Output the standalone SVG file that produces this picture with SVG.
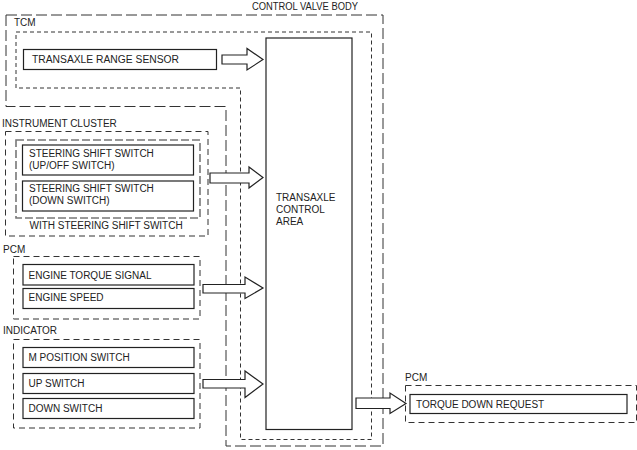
<svg xmlns="http://www.w3.org/2000/svg" width="637" height="450" viewBox="0 0 637 450">
<style>
text{font-family:"Liberation Sans",Arial,sans-serif;font-size:10px;fill:#222}
.box{fill:#fff;stroke:#222;stroke-width:1.2}
.cvb{fill:none;stroke:#333;stroke-width:1;stroke-dasharray:11 4}
.tcm{fill:none;stroke:#333;stroke-width:1;stroke-dasharray:4 3}
.grp{fill:none;stroke:#333;stroke-width:1;stroke-dasharray:6 4}
.sub{fill:none;stroke:#777;stroke-width:1.6;stroke-dasharray:8 3}
.arr{fill:#fff;stroke:#222;stroke-width:1.2;stroke-linejoin:miter}
</style>
<rect width="637" height="450" fill="#fff"/>
<g id="control-valve-body">
<path class="cvb" d="M6,15 H383 V446 H226 V106.5 H6 Z"/>
<text x="252" y="9.5" textLength="106" lengthAdjust="spacingAndGlyphs">CONTROL VALVE BODY</text>
</g>
<g id="tcm">
<path class="tcm" d="M16,32 H371.5 V439.5 H240.5 V88 H16 Z"/>
<text x="14" y="26">TCM</text>
</g>
<g id="transaxle-range-sensor">
<rect class="box" x="23.5" y="49.5" width="193" height="20"/>
<text x="32" y="62.7" textLength="147" lengthAdjust="spacingAndGlyphs">TRANSAXLE RANGE SENSOR</text>
</g>
<g id="transaxle-control-area">
<rect class="box" x="266" y="38" width="86" height="391.5"/>
<text x="276" y="200.5">TRANSAXLE</text>
<text x="276" y="212.7">CONTROL</text>
<text x="276" y="225">AREA</text>
</g>
<g id="instrument-cluster">
<rect class="grp" x="5.5" y="131.5" width="202.5" height="104.5"/>
<text x="2" y="127">INSTRUMENT CLUSTER</text>
</g>
<g id="with-steering-shift-switch">
<rect class="sub" x="16" y="140" width="184" height="78"/>
<text x="29.5" y="229">WITH STEERING SHIFT SWITCH</text>
</g>
<g id="steering-up-off">
<rect class="box" x="22.5" y="145" width="171" height="30"/>
<text x="29" y="157">STEERING SHIFT SWITCH</text>
<text x="29" y="168.5">(UP/OFF SWITCH)</text>
</g>
<g id="steering-down">
<rect class="box" x="22.5" y="181" width="171" height="30"/>
<text x="29" y="192">STEERING SHIFT SWITCH</text>
<text x="29" y="203.5">(DOWN SWITCH)</text>
</g>
<g id="pcm-in">
<rect class="grp" x="13.5" y="256.5" width="186.5" height="62.5"/>
<text x="3" y="253">PCM</text>
</g>
<g id="engine-torque-signal">
<rect class="box" x="23" y="264.5" width="171" height="20.5"/>
<text x="28.5" y="278.5">ENGINE TORQUE SIGNAL</text>
</g>
<g id="engine-speed">
<rect class="box" x="23" y="288.5" width="171" height="20"/>
<text x="28.5" y="301">ENGINE SPEED</text>
</g>
<g id="indicator">
<rect class="grp" x="13.5" y="339.5" width="186.5" height="88.5"/>
<text x="3" y="334">INDICATOR</text>
</g>
<g id="m-position-switch">
<rect class="box" x="23" y="347.5" width="171" height="20"/>
<text x="28.5" y="361">M POSITION SWITCH</text>
</g>
<g id="up-switch">
<rect class="box" x="23" y="373.5" width="171" height="20"/>
<text x="28.5" y="387">UP SWITCH</text>
</g>
<g id="down-switch">
<rect class="box" x="23" y="398.5" width="171" height="20"/>
<text x="28.5" y="412">DOWN SWITCH</text>
</g>
<g id="pcm-out">
<rect class="grp" x="405.5" y="385.5" width="231" height="37"/>
<text x="405" y="381">PCM</text>
</g>
<g id="torque-down-request">
<rect class="box" x="410" y="394.5" width="217" height="19"/>
<text x="416" y="407.5">TORQUE DOWN REQUEST</text>
</g>
<g id="connectors">
<polygon class="arr" points="222,55 247,55 247,48.5 263,59.5 247,70 247,64 222,64"/>
<polygon class="arr" points="210,173 249,173 249,167 263,177.5 249,188 249,183 210,183"/>
<polygon class="arr" points="203,284.5 245,284.5 245,277 263,288 245,298.5 245,293 203,293"/>
<polygon class="arr" points="203,379.5 245,379.5 245,371 263,384 245,397.5 245,388 203,388"/>
<polygon class="arr" points="356,398 390,398 390,393 406,403.5 390,413.5 390,408.5 356,408.5"/>
</g>
</svg>
